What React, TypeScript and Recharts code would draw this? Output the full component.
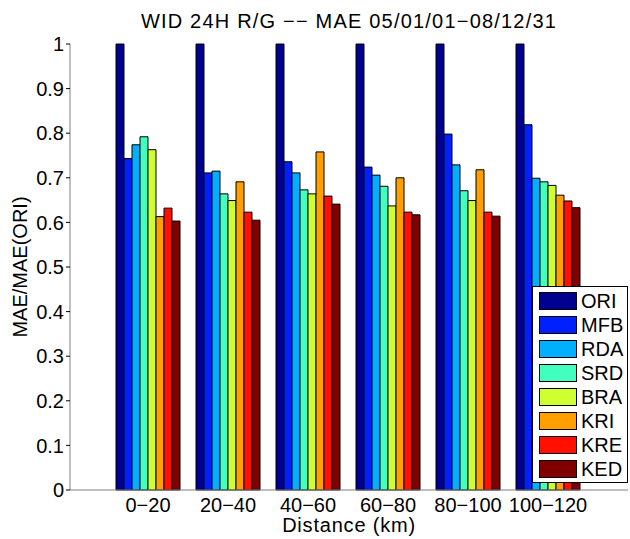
import { BarChart, Bar, XAxis, YAxis } from "recharts"

const groups = ["0−20", "20−40", "40−60", "60−80", "80−100", "100−120"]

const ORI = [1, 1, 1, 1, 1, 1]
const MFB = [0.743, 0.711, 0.736, 0.724, 0.798, 0.819]
const RDA = [0.774, 0.715, 0.711, 0.706, 0.729, 0.699]
const SRD = [0.792, 0.664, 0.673, 0.681, 0.671, 0.691]
const BRA = [0.763, 0.649, 0.664, 0.637, 0.649, 0.683]
const KRI = [0.613, 0.691, 0.758, 0.7, 0.718, 0.661]
const KRE = [0.632, 0.623, 0.659, 0.623, 0.623, 0.648]
const KED = [0.603, 0.605, 0.641, 0.617, 0.614, 0.633]

const yTicks = [0, 0.1, 0.2, 0.3, 0.4, 0.5, 0.6, 0.7, 0.8, 0.9, 1]

const series = [
  { key: "ORI", values: ORI, color: "#00008f" },
  { key: "MFB", values: MFB, color: "#0020ff" },
  { key: "RDA", values: RDA, color: "#00afff" },
  { key: "SRD", values: SRD, color: "#40ffbf" },
  { key: "BRA", values: BRA, color: "#cfff30" },
  { key: "KRI", values: KRI, color: "#ff9f00" },
  { key: "KRE", values: KRE, color: "#ff1000" },
  { key: "KED", values: KED, color: "#800000" },
]

const data = groups.map((g, i) => {
  const row: Record<string, string | number> = { name: g }
  series.forEach((s) => (row[s.key] = s.values[i]))
  return row
})

const font = "'Liberation Sans', Arial, Helvetica, sans-serif"

export default function App() {
  return (
    <div
      style={{
        position: "absolute",
        left: 0,
        top: 0,
        width: 630,
        height: 539,
        overflow: "hidden",
        background: "#fff",
        fontFamily: font,
        color: "#000",
      }}
    >
      <BarChart
        width={630}
        height={539}
        data={data}
        margin={{ top: 44, right: 2, bottom: 19, left: 0 }}
        barCategoryGap={8}
        barGap={0}
      >
        <XAxis
          dataKey="name"
          padding={{ left: 38, right: 40 }}
          axisLine={{ stroke: "#808080" }}
          tickLine={false}
          tickSize={5}
          tickMargin={3}
          height={30}
          interval={0}
          tick={{ fontSize: 20, fill: "#000", fontFamily: font }}
        />
        <YAxis
          domain={[0, 1]}
          ticks={yTicks}
          width={70}
          axisLine={{ stroke: "#808080" }}
          tickLine={{ stroke: "#000" }}
          tickSize={4}
          tickMargin={2}
          interval={0}
          tick={{ fontSize: 20, fill: "#000", fontFamily: font }}
        />
        {series.map((s) => (
          <Bar
            key={s.key}
            dataKey={s.key}
            fill={s.color}
            stroke="#000"
            strokeWidth={1}
            isAnimationActive={false}
          />
        ))}
      </BarChart>

      <div
        style={{
          position: "absolute",
          left: 0,
          width: 698,
          top: 11,
          lineHeight: "20px",
          textAlign: "center",
          fontSize: 20,
          letterSpacing: 1.2,
          whiteSpace: "nowrap",
        }}
      >
        WID 24H R/G −− MAE 05/01/01−08/12/31
      </div>

      <div
        style={{
          position: "absolute",
          left: 70,
          width: 558,
          top: 515,
          lineHeight: "20px",
          textAlign: "center",
          fontSize: 20,
          letterSpacing: 0.8,
          whiteSpace: "nowrap",
        }}
      >
        Distance (km)
      </div>

      <div
        style={{
          position: "absolute",
          left: 20,
          top: 267,
          lineHeight: "20px",
          fontSize: 20,
          whiteSpace: "nowrap",
          transform: "translate(-50%, -50%) rotate(-90deg)",
        }}
      >
        MAE/MAE(ORI)
      </div>

      <div
        style={{
          position: "absolute",
          left: 532,
          top: 286,
          width: 96,
          height: 197,
          border: "1px solid #000",
          background: "#fff",
          boxSizing: "border-box",
          paddingTop: 2,
        }}
      >
        {series.map((s) => (
          <div key={s.key} style={{ display: "flex", alignItems: "center", height: 24, marginLeft: 6 }}>
            <div
              style={{
                width: 38,
                height: 18,
                background: s.color,
                border: "1px solid #000",
                boxSizing: "border-box",
              }}
            />
            <span style={{ fontSize: 20, lineHeight: "20px", marginLeft: 4 }}>{s.key}</span>
          </div>
        ))}
      </div>
    </div>
  )
}
